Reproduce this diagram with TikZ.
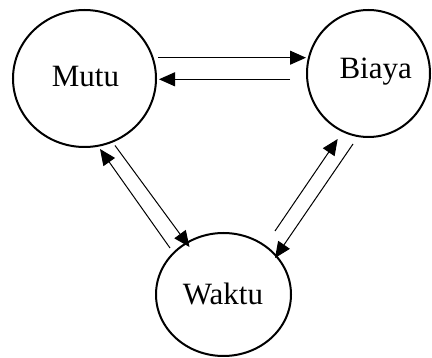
\documentclass[tikz,border=0pt]{standalone}
\usepackage{fontspec}
\setmainfont{Liberation Serif}
\usetikzlibrary{shapes.geometric,arrows.meta}
\begin{document}
\begin{tikzpicture}[x=1pt,y=-1pt,
  oval/.style={draw,ellipse,line width=2pt,inner sep=0pt},
  lbl/.style={anchor=base,inner sep=0pt,font=\fontsize{31}{36}\selectfont},
  flow/.style={line width=1pt,-{Triangle[length=16pt,width=14pt]}}]
\useasboundingbox (0,0) rectangle (432,358);
\node[oval,minimum width=143pt,minimum height=137pt] (mutu) at (84.5,78.5) {};
\node[oval,minimum width=123pt,minimum height=127pt] (biaya) at (368.5,73.5) {};
\node[oval,minimum width=135pt,minimum height=123pt] (waktu) at (223.5,294.5) {};
\node[lbl] (tmutu) at (85.5,87) {Mutu};
\node[lbl] (tbiaya) at (375.7,79) {Biaya};
\node[lbl] (twaktu) at (223,305) {Waktu};
\coordinate (a1) at (158,57.7); \coordinate (b1) at (306,57.7);
\coordinate (a2) at (290,79.3); \coordinate (b2) at (159,79.3);
\coordinate (a3) at (170,248); \coordinate (b3) at (100,149);
\coordinate (a4) at (115,145.5); \coordinate (b4) at (189.5,247);
\coordinate (a5) at (275,231); \coordinate (b5) at (337.7,139);
\coordinate (a6) at (353,144); \coordinate (b6) at (275,258);
\draw[flow] (a1) -- (b1);
\draw[flow] (a2) -- (b2);
\draw[flow] (a3) -- (b3);
\draw[flow] (a4) -- (b4);
\draw[flow] (a5) -- (b5);
\draw[flow] (a6) -- (b6);
\end{tikzpicture}
\end{document}
